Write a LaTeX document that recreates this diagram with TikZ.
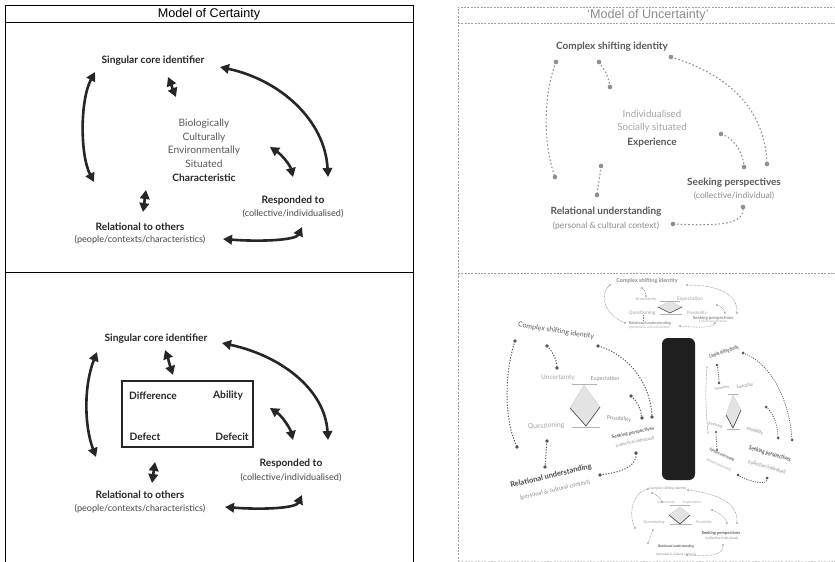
\documentclass[tikz,border=0pt]{standalone}
\usepackage{fontspec}
\setmainfont{Lato}
\newfontfamily\arialf{Liberation Sans}
\usetikzlibrary{arrows.meta}
\definecolor{dk}{HTML}{262626}
\definecolor{gA}{HTML}{595959}
\definecolor{gB}{HTML}{8C8C8C}
\definecolor{gC}{HTML}{A6A6A6}
\definecolor{gD}{HTML}{8F8F8F}
\definecolor{gE}{HTML}{555555}
\newcommand\barrow[5]{\coordinate (#1a) at #2; \coordinate (#1b) at #5;
  \draw[bigarrow] (#1a) .. controls #3 and #4 .. (#1b);}
\newcommand\dlink[8]{\coordinate (#3a) at #4; \coordinate (#3b) at #7;
  \draw[#1] (#3a) .. controls #5 and #6 .. (#3b);
  \fill[#2] (#3a) circle (#8) (#3b) circle (#8);}
\newcommand\diam[4]{\draw[fill=gray!22, draw=gray!35, line width=0.4pt] #1 -- #2 -- #3 -- #4 -- cycle;
  \draw[gray!55!black, line width=0.6pt] #4 -- #3 -- #2;}
\begin{document}
\begin{tikzpicture}[x=1pt,y=-1pt,
  ttl/.style={inner sep=0pt, font=\arialf\fontsize{12.6}{14}\selectfont},
  lab/.style={inner sep=0pt, text=dk, font=\fontsize{10.2}{11}\selectfont\bfseries},
  sub/.style={inner sep=0pt, text=dk!85, font=\fontsize{9.1}{10}\selectfont},
  mid/.style={inner sep=0pt, text=gA, align=center, font=\fontsize{10.2}{13.7}\selectfont},
  bigarrow/.style={draw=dk, line width=2.6pt, {Triangle[length=9pt,width=9.5pt]}-{Triangle[length=9pt,width=9.5pt]}},
  ulab/.style={inner sep=0pt, text=gA, font=\fontsize{10}{11}\selectfont\bfseries},
  usub/.style={inner sep=0pt, text=gB, font=\fontsize{8.6}{10}\selectfont},
  ulight/.style={inner sep=0pt, text=gC, font=\fontsize{9.8}{11}\selectfont},
  dline/.style={draw=gD, line width=1.1pt, dash pattern=on 1.6pt off 2.2pt},
  rdash/.style={draw=gray!75, line width=0.6pt, dash pattern=on 2pt off 1.3pt},
  cf/.style={inner sep=0pt, font=\fontsize{#1}{#1}\selectfont},
  cfb/.style={inner sep=0pt, font=\fontsize{#1}{#1}\selectfont\bfseries},
  cl/.style={draw=gE, line width=1pt, dash pattern=on 1.2pt off 1.6pt},
  cl2/.style={draw=gE, line width=0.8pt, dash pattern=on 1pt off 1.3pt},
  cl3/.style={draw=gB, line width=0.5pt, dash pattern=on 0.8pt off 0.8pt},
  thinl/.style={draw=gray!60, line width=0.5pt}]
\useasboundingbox (0,0) rectangle (835,562);
\fill[white] (0,0) rectangle (835,562);

% ---------------- Model of Certainty ----------------
\draw[line width=0.9pt] (5,562) -- (5,5) -- (413,5) -- (413,562);
\draw[line width=0.9pt] (5,22) -- (413,22);
\draw[line width=0.9pt] (5,272) -- (413,272);
\node[ttl] (t1) at (209,14) {Model of Certainty};

\node[lab] (sci1) at (153,61) {Singular core identifier};
\node[mid] (chr1) at (204,150) {Biologically\\Culturally\\Environmentally\\Situated\\\textbf{\color{dk}Characteristic}};
\node[lab] (rsp1) at (293,201) {Responded to};
\node[sub] (rsp1s) at (293,214) {(collective/individualised)};
\node[lab] (rel1) at (140,227) {Relational to others};
\node[sub] (rel1s) at (140,240) {(people/contexts/characteristics)};
\barrow{a1}{(95,72)}{(80,100)}{(80,155)}{(94,182)}
\barrow{a2}{(168,77)}{(171,84)}{(173,90)}{(176,97)}
\barrow{a3}{(220,67)}{(280,80)}{(325,120)}{(328,177)}
\barrow{a4}{(270,147)}{(282,155)}{(290,165)}{(293,177)}
\barrow{a5}{(146,190)}{(145,197)}{(144,205)}{(143,212)}
\barrow{a6}{(223,239)}{(262,242)}{(296,240)}{(302,227)}

\node[lab] (sci2) at (156,339) {Singular core identifier};
\draw[line width=2.4pt, dk] (122,381) rectangle (253,447);
\node[lab] (dif) at (153,396) {Difference};
\node[lab] (abl) at (228,396) {Ability};
\node[lab] (dft) at (145,437) {Defect};
\node[lab] (dfc) at (232,437) {Defecit};
\node[lab] (rsp2) at (291,464) {Responded to};
\node[sub] (rsp2s) at (291,478) {(collective/individualised)};
\node[lab] (rel2) at (140,495) {Relational to others};
\node[sub] (rel2s) at (140,509) {(people/contexts/characteristics)};
\barrow{b1}{(97,352)}{(84,385)}{(84,425)}{(96,457)}
\barrow{b2}{(165,350)}{(168,358)}{(170,366)}{(173,375)}
\barrow{b3}{(222,343)}{(282,356)}{(325,390)}{(328,440)}
\barrow{b4}{(270,408)}{(282,416)}{(290,428)}{(293,440)}
\barrow{b5}{(155,462)}{(154,469)}{(153,476)}{(152,483)}
\barrow{b6}{(225,507)}{(264,510)}{(296,508)}{(302,495)}

% ---------------- Model of Uncertainty ----------------
\draw[rdash] (458,562) -- (458,7) -- (835,7);
\draw[rdash] (458,23) -- (835,23);
\draw[rdash] (458,273) -- (835,273);
\draw[rdash, draw=gray!35] (458,561) -- (835,561);
\node[ttl, text=gB] (t2) at (648,15) {‘Model of Uncertainty’};

\node[ulab] (csi) at (612,47) {Complex shifting identity};
\node[ulight] (ind) at (652,114) {Individualised};
\node[ulight] (soc) at (652,128) {Socially situated};
\node[ulab] (exp) at (652,143) {Experience};
\node[ulab] (sp) at (734,183) {Seeking perspectives};
\node[usub] (sps) at (734,196) {(collective/individual)};
\node[ulab] (ru) at (606,212) {Relational understanding};
\node[usub] (rus) at (606,226) {(personal \& cultural context)};
\dlink{dline}{gD}{c1}{(556,62)}{(543,95)}{(543,145)}{(555,177)}{2.3}
\dlink{dline}{gD}{c2}{(599,62)}{(605,70)}{(609,78)}{(610,87)}{2.3}
\dlink{dline}{gD}{c3}{(671,57)}{(730,75)}{(765,110)}{(767,164)}{2.3}
\dlink{dline}{gD}{c4}{(721,134)}{(735,138)}{(744,155)}{(744,167)}{2.3}
\dlink{dline}{gD}{c5}{(601,166)}{(600,176)}{(598,186)}{(597,195)}{2.3}
\dlink{dline}{gD}{c6}{(673,224)}{(720,226)}{(745,225)}{(743,207)}{2.3}

% collage: black bar
\fill[black!88, rounded corners=6pt] (662,338) rectangle (695,480);

% left rotated diagram
\node[cf=7, text=gA, rotate=-9] (lcsi) at (556,331) {Complex shifting identity};
\node[cf=6.5, text=gC] (lunc) at (558,378) {Uncertainty};
\node[cf=5.5, text=gB] (lexp) at (605,379) {Expectation};
\node[cf=6.8, text=gC, rotate=3] (lque) at (546,426) {Questioning};
\node[cf=5.5, text=gB, rotate=-5] (lpos) at (619,419) {Possibility};
\node[cfb=4.6, text=gA, rotate=12] (lsp) at (633,433) {Seeking perspectives};
\node[cf=4.2, text=gB, rotate=12] (lsps) at (635,442) {(collective/individual)};
\node[cfb=7.5, text=gA!80!black, rotate=13] (lru) at (551,476) {Relational understanding};
\node[cf=5.8, text=gB, rotate=13] (lrus) at (555,490) {(personal \& cultural context)};
\diam{(584,385)}{(600,407)}{(586,426)}{(570,408)}
\draw[thinl] (572,384) -- (597,384);
\draw[thinl] (572,427) -- (600,427);
\dlink{cl}{gE}{l1}{(515,341)}{(504,375)}{(504,420)}{(517,447)}{1.8}
\dlink{cl}{gE}{l2}{(547,346)}{(553,352)}{(557,360)}{(557,368)}{1.8}
\dlink{cl}{gE}{l3}{(598,346)}{(630,355)}{(651,385)}{(652,417)}{1.8}
\dlink{cl}{gE}{l4}{(631,396)}{(638,402)}{(641,410)}{(642,418)}{1.8}
\dlink{cl}{gE}{l5}{(547,441)}{(546,450)}{(546,458)}{(545,467)}{1.8}
\dlink{cl}{gE}{l6}{(600,475)}{(620,472)}{(637,468)}{(636,453)}{1.8}

% right rotated diagram
\node[cfb=5, text=gA, rotate=18, xscale=0.55] (rcsi) at (724,352) {Complex shifting identity};
\node[cf=4, text=gB, rotate=10, xscale=0.7] (runc) at (722,388) {Uncertainty};
\node[cf=4.5, text=gB, rotate=10, xscale=0.7] (rexp) at (745,386) {Expectation};
\node[cf=4, text=gB, rotate=-15, xscale=0.7] (rque) at (715,425) {Questioning};
\node[cf=5, text=gB, rotate=-15, xscale=0.75] (rpos) at (755,431) {Possibility};
\node[cfb=5.8, text=gA, rotate=-16, xscale=0.8] (rsp) at (770,454) {Seeking perspectives};
\node[cf=5.2, text=gB, rotate=-16, xscale=0.8] (rsps) at (767,467) {(collective/individual)};
\node[cfb=4, text=gA, rotate=-24, xscale=0.6] (rru) at (722,455) {Relational understanding};
\node[cf=3.5, text=gB, rotate=-24, xscale=0.6] (rrus) at (719,465) {(personal \& cultural context)};
\diam{(733,395)}{(741,410)}{(733,428)}{(726,415)}
\draw[thinl] (728,394) -- (738,394);
\draw[thinl] (727,429) -- (740,429);
\dlink{cl2}{gE}{r1}{(743,353)}{(770,362)}{(790,400)}{(792,440)}{1.5}
\dlink{cl3}{gB}{r2}{(707,367)}{(705,390)}{(706,415)}{(708,433)}{0.6}
\dlink{cl2}{gE}{r3}{(717,365)}{(718,371)}{(719,377)}{(719,383)}{1.3}
\dlink{cl2}{gE}{r4}{(766,407)}{(773,412)}{(778,425)}{(778,438)}{1.5}
\dlink{cl2}{gE}{r5}{(716,432)}{(716,440)}{(717,446)}{(717,450)}{1.2}
\dlink{cl2}{gE}{r6}{(738,475)}{(752,483)}{(768,486)}{(767,478)}{1.5}

% top small diagram
\node[cfb=5.5, text=gB] (tcsi) at (647,281) {Complex shifting identity};
\node[cf=4, text=gC] (tunc) at (646,299) {Uncertainty};
\node[cf=5, text=gC] (texp) at (690,299) {Expectation};
\node[cf=5, text=gC] (tque) at (642,313) {Questioning};
\node[cf=4.5, text=gC] (tpos) at (697,313) {Possibility};
\node[cfb=4.3, text=gB] (tsp) at (713,318) {Seeking perspectives};
\node[cf=3, text=gC] (tsps) at (713,322) {(collective/individual)};
\node[cfb=3.8, text=gB] (tru) at (650,323) {Relational understanding};
\node[cf=3.3, text=gC] (trus) at (650,327) {(personal \& cultural context)};
\diam{(670,301)}{(682,307)}{(670,313)}{(658,307)}
\draw[thinl] (660,301) -- (680,301);
\draw[thinl] (660,314) -- (682,314);
\dlink{cl3}{gB}{tt1}{(610,285)}{(598,295)}{(605,315)}{(625,323)}{0.8}
\dlink{cl3}{gB}{tt2}{(642,288)}{(645,290)}{(646,293)}{(646,296)}{0.8}
\dlink{cl3}{gB}{tt3}{(687,285)}{(720,285)}{(738,295)}{(737,313)}{0.8}
\dlink{cl3}{gB}{tt4}{(717,305)}{(722,307)}{(725,310)}{(725,313)}{0.8}
\dlink{cl3}{gB}{tt5}{(643,315)}{(643,317)}{(643,319)}{(643,321)}{0.5}
\dlink{cl3}{gB}{tt6}{(680,326)}{(700,328)}{(713,328)}{(715,323)}{0.8}

% bottom small diagram
\node[cf=3.4, text=gB] (bcsi) at (668,489) {Complex shifting identity};
\node[cf=3.4, text=gC] (bunc) at (666,503) {Uncertainty};
\node[cf=3.4, text=gC] (bexp) at (692,503) {Expectation};
\node[cf=4, text=gC] (bque) at (654,522) {Questioning};
\node[cf=3.6, text=gC] (bpos) at (704,522) {Possibility};
\node[cfb=4.1, text=gA] (bsp) at (721,533) {Seeking perspectives};
\node[cf=3.5, text=gB] (bsps) at (722,538) {(collective/individual)};
\node[cfb=3.4, text=gA, font=\fontsize{3.4}{3.4}\selectfont\bfseries\itshape] (bru) at (676,547) {Relational understanding};
\node[cf=3.2, text=gB] (brus) at (676,555) {(personal \& cultural context)};
\diam{(680,507)}{(690,515)}{(680,524)}{(669,515)}
\draw[thinl] (670,505) -- (690,505);
\draw[thinl] (670,524) -- (692,524);
\dlink{cl3}{gB}{bb1}{(648,489)}{(632,492)}{(628,515)}{(635,528)}{0.8}
\dlink{cl3}{gB}{bb2}{(652,493)}{(657,495)}{(661,498)}{(662,502)}{0.8}
\dlink{cl3}{gB}{bb3}{(688,490)}{(730,495)}{(738,510)}{(737,523)}{0.8}
\dlink{cl3}{gB}{bb4}{(712,510)}{(720,513)}{(726,518)}{(727,523)}{0.8}
\dlink{cl3}{gB}{bb5}{(653,530)}{(651,535)}{(649,539)}{(648,543)}{0.8}
\dlink{cl3}{gB}{bb6}{(687,555)}{(710,556)}{(724,556)}{(723,545)}{0.8}
\end{tikzpicture}
\end{document}
